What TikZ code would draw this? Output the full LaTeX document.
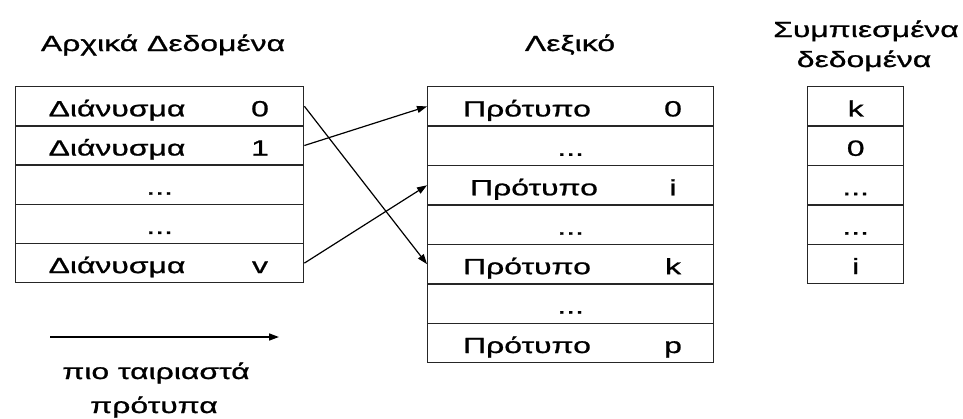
\documentclass[tikz,border=0pt]{standalone}
\usepackage{fontspec}
\setmainfont{Liberation Sans}[FakeStretch=1.45,FakeBold=1]
\usetikzlibrary{arrows.meta}

\begin{document}
\begin{tikzpicture}[x=1pt,y=-1pt,
  font=\fontsize{22}{30}\selectfont,
  cell/.style={draw=black!85, line width=1.4pt, minimum width=#1,
               inner sep=0pt, anchor=north west},
  txt/.style={inner sep=0pt, anchor=base},
  title/.style={inner sep=0pt, anchor=base, align=center},
  conn/.style={line width=1.2pt, -{Triangle[length=10pt,width=7pt]}}]

\useasboundingbox (0,0) rectangle (963,418);

% titles
\node[title] (tl) at (163,51) {Αρχικά Δεδομένα};
\node[title] (tm) at (570,51) {Λεξικό};
\node[title] (tr1) at (866,37) {Συμπιεσμένα};
\node[title] (tr2) at (864,67) {δεδομένα};

% left table: original data
\foreach \i in {0,...,4}
  \node[cell=288pt, minimum height=39.2pt] (L\i) at (15,{86+39.2*\i}) {};
\node[txt] (l0a) at ([xshift=102pt,yshift=-10pt]L0.west) {Διάνυσμα};
\node[txt] (l0b) at ([xshift=245pt,yshift=-10pt]L0.west) {0};
\node[txt] (l1a) at ([xshift=102pt,yshift=-10pt]L1.west) {Διάνυσμα};
\node[txt] (l1b) at ([xshift=245pt,yshift=-10pt]L1.west) {1};
\node[txt] (l2a) at ([yshift=-10pt]L2.center) {...};
\node[txt] (l3a) at ([yshift=-10pt]L3.center) {...};
\node[txt] (l4a) at ([xshift=102pt,yshift=-10pt]L4.west) {Διάνυσμα};
\node[txt] (l4b) at ([xshift=245pt,yshift=-10pt]L4.west) {v};

% middle table: dictionary
\foreach \i in {0,...,6}
  \node[cell=286pt, minimum height=39.43pt] (D\i) at (427,{86+39.43*\i}) {};
\node[txt] (d0a) at ([xshift=100pt,yshift=-10pt]D0.west) {Πρότυπο};
\node[txt] (d0b) at ([xshift=246pt,yshift=-10pt]D0.west) {0};
\node[txt] (d1a) at ([yshift=-10pt]D1.center) {...};
\node[txt] (d2a) at ([xshift=107pt,yshift=-10pt]D2.west) {Πρότυπο};
\node[txt] (d2b) at ([xshift=246pt,yshift=-10pt]D2.west) {i};
\node[txt] (d3a) at ([yshift=-10pt]D3.center) {...};
\node[txt] (d4a) at ([xshift=100pt,yshift=-10pt]D4.west) {Πρότυπο};
\node[txt] (d4b) at ([xshift=246pt,yshift=-10pt]D4.west) {k};
\node[txt] (d5a) at ([yshift=-10pt]D5.center) {...};
\node[txt] (d6a) at ([xshift=100pt,yshift=-10pt]D6.west) {Πρότυπο};
\node[txt] (d6b) at ([xshift=246pt,yshift=-10pt]D6.west) {p};

% right table: compressed data
\foreach \i in {0,...,4}
  \node[cell=96pt, minimum height=39.4pt] (C\i) at (807,{86+39.4*\i}) {};
\node[txt] (c0) at ([yshift=-10pt]C0.center) {k};
\node[txt] (c1) at ([yshift=-10pt]C1.center) {0};
\node[txt] (c2) at ([yshift=-10pt]C2.center) {...};
\node[txt] (c3) at ([yshift=-10pt]C3.center) {...};
\node[txt] (c4) at ([yshift=-10pt]C4.center) {i};

% best-match links
\draw[conn] (L0.east) -- (D4.west);
\draw[conn] (L1.east) -- (D0.west);
\draw[conn] (L4.east) -- (D2.west);

% legend
\coordinate (ga) at (50,337);
\coordinate (gb) at (279,337);
\draw[conn, line width=1.6pt] (ga) -- (gb);
\node[title] (gl1) at (156,379) {πιο ταιριαστά};
\node[title] (gl2) at (154,413) {πρότυπα};
\end{tikzpicture}
\end{document}
